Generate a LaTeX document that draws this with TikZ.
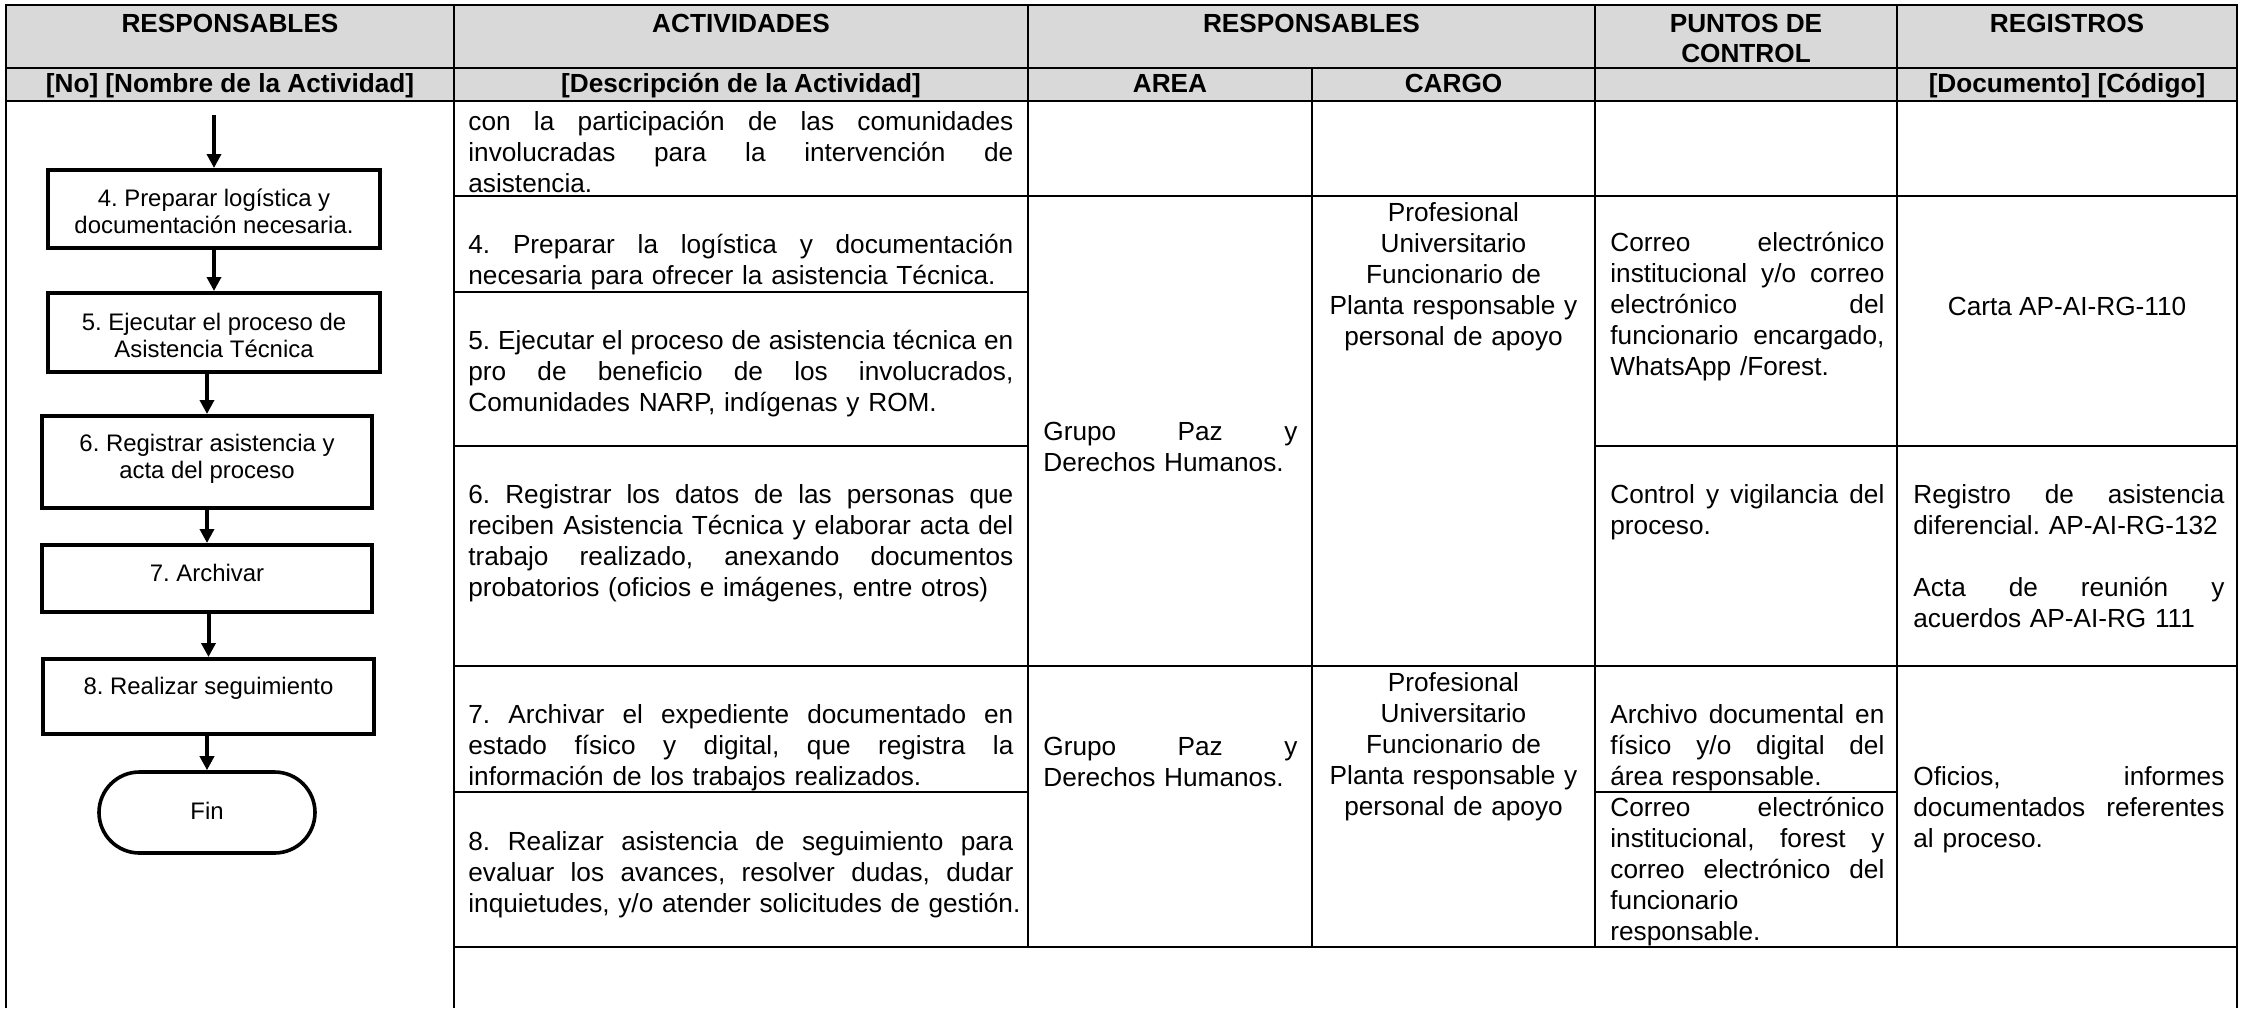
\documentclass[tikz,border=0pt]{standalone}
\usepackage{fontspec}
\setmainfont{Liberation Sans}
\usetikzlibrary{arrows.meta,shapes.misc}
\definecolor{hdr}{RGB}{217,217,217}
\newcommand\bodyfont{\fontsize{13.1pt}{15.5pt}\selectfont\frenchspacing}
\newcommand\flowfont{\fontsize{11.95pt}{13.4pt}\selectfont\frenchspacing}
\newcommand\jfill[2]{\makebox[#1][s]{\spaceskip=.278em plus 1fil\relax#2}}
\newcommand\ja[1]{\jfill{272.5pt}{#1}}
\newcommand\jr[1]{\jfill{127pt}{#1}}
\newcommand\jp[1]{\jfill{137pt}{#1}}
\newcommand\jg[1]{\jfill{155.5pt}{#1}}
\tikzset{
  tline/.style={line width=1.25pt},
  hd/.style={font=\bodyfont\bfseries, inner sep=0pt, anchor=base},
  tx/.style={font=\bodyfont, inner sep=0pt, anchor=north west, yshift=10.85pt, align=left},
  txc/.style={font=\bodyfont, inner sep=0pt, anchor=north, yshift=10.85pt, align=center},
  tsingle/.style={font=\bodyfont, inner sep=0pt, anchor=base},
  fbox/.style={draw, line width=2pt, inner sep=0pt},
  fend/.style={draw, line width=1.8pt, rounded rectangle, inner sep=0pt},
  flab/.style={font=\flowfont, inner sep=0pt, anchor=north, yshift=9.38pt, align=center},
  arr/.style={line width=2pt, -{Triangle[width=7pt,length=7pt]}},
}
\begin{document}
\begin{tikzpicture}[x=0.5pt,y=-0.5pt]
\useasboundingbox (0,0) rectangle (2245,1008);
% header background
\fill[hdr] (6,5) rectangle (2237,101);
% table rules
\draw[tline] (6,1008) -- (6,5) -- (2237,5) -- (2237,1008);
\draw[tline] (6,68) -- (2237,68);
\draw[tline] (6,101) -- (2237,101);
\draw[tline] (454,5) -- (454,1008);
\draw[tline] (1028,5) -- (1028,947);
\draw[tline] (1312,68) -- (1312,947);
\draw[tline] (1595,5) -- (1595,947);
\draw[tline] (1897,5) -- (1897,947);
\draw[tline] (454,196) -- (2237,196);
\draw[tline] (454,292) -- (1028,292);
\draw[tline] (454,446) -- (1028,446);
\draw[tline] (1595,446) -- (2237,446);
\draw[tline] (454,666) -- (2237,666);
\draw[tline] (454,792) -- (1028,792);
\draw[tline] (1595,792) -- (1897,792);
\draw[tline] (454,947) -- (2237,947);
% headers
\node[hd] (h1) at (230,32) {RESPONSABLES};
\node[hd] (h2) at (741,32) {ACTIVIDADES};
\node[hd] (h3) at (1311.5,32) {RESPONSABLES};
\node[hd] (h4) at (1746,32) {PUNTOS DE};
\node[hd] (h4b) at (1746,62) {CONTROL};
\node[hd] (h5) at (2067,32) {REGISTROS};
\node[hd] (s1) at (230,92.5) {[No] [Nombre de la Actividad]};
\node[hd] (s2) at (741,92.5) {[Descripción de la Actividad]};
\node[hd] (s3) at (1170,92.5) {AREA};
\node[hd] (s4) at (1453.5,92.5) {CARGO};
\node[hd] (s5) at (2067,92.5) {[Documento] [Código]};
% actividades
\node[tx, text width=272.5pt] (a1) at (468,130) {\strut\ja{con la participación de las comunidades}\\\ja{involucradas para la intervención de}\\\mbox{asistencia.}};
\node[tx, text width=272.5pt] (a4) at (468,253.5) {\strut\ja{4. Preparar la logística y documentación}\\\mbox{necesaria para ofrecer la asistencia Técnica.}};
\node[tx, text width=272.5pt] (a5) at (468,349) {\strut\ja{5. Ejecutar el proceso de asistencia técnica en}\\\ja{pro de beneficio de los involucrados,}\\\mbox{Comunidades NARP, indígenas y ROM.}};
\node[tx, text width=272.5pt] (a6) at (468,503.5) {\strut\ja{6. Registrar los datos de las personas que}\\\ja{reciben Asistencia Técnica y elaborar acta del}\\\ja{trabajo realizado, anexando documentos}\\\mbox{probatorios (oficios e imágenes, entre otros)}};
\node[tx, text width=272.5pt] (a7) at (468,723.5) {\strut\ja{7. Archivar el expediente documentado en}\\\ja{estado físico y digital, que registra la}\\\mbox{información de los trabajos realizados.}};
\node[tx, text width=272.5pt] (a8) at (468,850.5) {\strut\ja{8. Realizar asistencia de seguimiento para}\\\ja{evaluar los avances, resolver dudas, dudar}\\\mbox{inquietudes, y/o atender solicitudes de gestión.}};
% area
\node[tx, text width=127pt] (ar1) at (1043,440.5) {\strut\jr{Grupo Paz y}\\\mbox{Derechos Humanos.}};
\node[tx, text width=127pt] (ar2) at (1043,755.5) {\strut\jr{Grupo Paz y}\\\mbox{Derechos Humanos.}};
% cargo
\node[txc, text width=135pt] (c1) at (1453.5,221.5) {\strut Profesional\\Universitario\\Funcionario de\\Planta responsable y\\personal de apoyo};
\node[txc, text width=135pt] (c2) at (1453.5,691.5) {\strut Profesional\\Universitario\\Funcionario de\\Planta responsable y\\personal de apoyo};
% puntos de control
\node[tx, text width=137pt] (p1) at (1610,251.5) {\strut\jp{Correo electrónico}\\\jp{institucional y/o correo}\\\jp{electrónico del}\\\jp{funcionario encargado,}\\\mbox{WhatsApp /Forest.}};
\node[tx, text width=137pt] (p2) at (1610,503.5) {\strut\jp{Control y vigilancia del}\\\mbox{proceso.}};
\node[tx, text width=137pt] (p3) at (1610,723.5) {\strut\jp{Archivo documental en}\\\jp{físico y/o digital del}\\\mbox{área responsable.}};
\node[tx, text width=137pt] (p4) at (1610,816.5) {\strut\jp{Correo electrónico}\\\jp{institucional, forest y}\\\jp{correo electrónico del}\\\mbox{funcionario}\\\mbox{responsable.}};
% registros
\node[tsingle] (r1) at (2067,315.5) {Carta AP-AI-RG-110};
\node[tx, text width=155.5pt] (r2) at (1913,503.5) {\strut\jg{Registro de asistencia}\\\mbox{diferencial. AP-AI-RG-132}};
\node[tx, text width=155.5pt] (r3) at (1913,596.5) {\strut\jg{Acta de reunión y}\\\mbox{acuerdos AP-AI-RG 111}};
\node[tx, text width=155.5pt] (r4) at (1913,785.5) {\strut\jg{Oficios, informes}\\\jg{documentados referentes}\\\mbox{al proceso.}};
% flowchart
\coordinate (st) at (214,115);
\node[fbox, minimum width=166pt, minimum height=39pt] (b4) at (214,209) {};
\node[fbox, minimum width=166pt, minimum height=39.5pt] (b5) at (214,332.5) {};
\node[fbox, minimum width=165pt, minimum height=46pt] (b6) at (207,462) {};
\node[fbox, minimum width=165pt, minimum height=33.5pt] (b7) at (207,578.5) {};
\node[fbox, minimum width=165.5pt, minimum height=37.5pt] (b8) at (208.5,696.5) {};
\node[fend, minimum width=108pt, minimum height=40.5pt] (fin) at (207,812.5) {};
\node[flab] (t4) at (214,206) {\strut 4. Preparar logística y\\documentación necesaria.};
\node[flab] (t5) at (214,330) {\strut 5. Ejecutar el proceso de\\Asistencia Técnica};
\node[flab] (t6) at (207,451) {\strut 6. Registrar asistencia y\\acta del proceso};
\node[flab] (t7) at (207,581) {\strut 7. Archivar};
\node[flab] (t8) at (208.5,694) {\strut 8. Realizar seguimiento};
\node[flab] (tf) at (207,819) {\strut Fin};
\draw[arr] (st) -- (b4.north);
\draw[arr] (b5.north |- b4.south) -- (b5.north);
\draw[arr] (b6.north |- b5.south) -- (b6.north);
\draw[arr] (b7.north |- b6.south) -- (b7.north);
\draw[arr] (b8.north |- b7.south) -- (b8.north);
\draw[arr] (fin.north |- b8.south) -- (fin.north);
\end{tikzpicture}
\end{document}
